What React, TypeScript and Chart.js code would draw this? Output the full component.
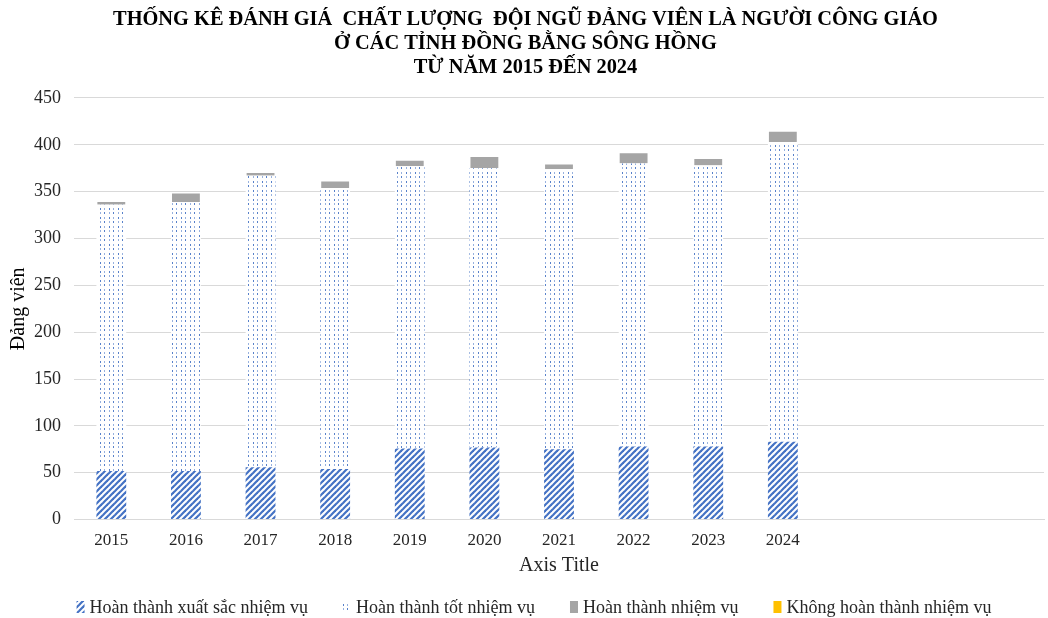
import React, { useEffect, useRef } from "react";
import { Chart, registerables } from "chart.js";

Chart.register(...registerables);

const categories = ["2015", "2016", "2017", "2018", "2019", "2020", "2021", "2022", "2023", "2024", "", "", ""];
const excellent = [52, 52, 56, 54, 76, 77, 75, 78, 78, 83];
const good = [284, 287, 311, 300, 301, 298, 299, 302, 300, 320];
const completed = [4, 10, 4, 8, 7, 13, 6, 12, 8, 12];
const notCompleted = [0, 0, 0, 0, 0, 0, 0, 0, 0, 0];
const seriesNames = [
  "Hoàn thành xuất sắc nhiệm vụ",
  "Hoàn thành tốt nhiệm vụ",
  "Hoàn thành nhiệm vụ",
  "Không hoàn thành nhiệm vụ",
];
const titleLines = [
  "THỐNG KÊ ĐÁNH GIÁ  CHẤT LƯỢNG  ĐỘI NGŨ ĐẢNG VIÊN LÀ NGƯỜI CÔNG GIÁO",
  "Ở CÁC TỈNH ĐỒNG BẰNG SÔNG HỒNG",
  "TỪ NĂM 2015 ĐẾN 2024",
];
const yTicks = { min: 0, max: 450, step: 50 };

const BLUE = "#4472C4";
const FONT = "'Liberation Serif', 'Times New Roman', serif";
const TEXT = "#262626";

function stripePattern(ctx: CanvasRenderingContext2D) {
  const c = document.createElement("canvas");
  c.width = 6;
  c.height = 6;
  const g = c.getContext("2d")!;
  g.fillStyle = "#ffffff";
  g.fillRect(0, 0, 6, 6);
  g.strokeStyle = BLUE;
  g.lineWidth = 2.2;
  g.lineCap = "square";
  for (const off of [-6, 0, 6]) {
    g.beginPath();
    g.moveTo(off - 1, 7);
    g.lineTo(off + 7, -1);
    g.stroke();
  }
  return ctx.createPattern(c, "repeat")!;
}

function dotPattern(ctx: CanvasRenderingContext2D) {
  const c = document.createElement("canvas");
  c.width = 9;
  c.height = 9;
  const g = c.getContext("2d")!;
  g.fillStyle = "#ffffff";
  g.fillRect(0, 0, 9, 9);
  g.fillStyle = "rgba(68,114,196,0.9)";
  g.fillRect(1, 1, 1, 2);
  g.fillRect(5, 5, 1, 2);
  g.fillStyle = "rgba(68,114,196,0.55)";
  g.fillRect(5, 1, 1, 2);
  g.fillRect(1, 5, 1, 2);
  return ctx.createPattern(c, "repeat")!;
}

const customLegend = {
  id: "customLegend",
  afterDraw(chart: any) {
    const ctx: CanvasRenderingContext2D = chart.ctx;
    ctx.save();
    ctx.font = `18px ${FONT}`;
    const gap = 35;
    const box = 8;
    const textGap = 5;
    const ds = chart.data.datasets;
    const widths = ds.map((d: any) => box + textGap + ctx.measureText(d.label).width);
    const total = widths.reduce((a: number, b: number) => a + b, 0) + gap * (ds.length - 1);
    let x = chart.width / 2 + 10 - total / 2;
    const y = 607;
    ds.forEach((d: any, i: number) => {
      ctx.fillStyle = d.backgroundColor;
      ctx.fillRect(x, y - 6, box, 12);
      ctx.fillStyle = TEXT;
      ctx.textBaseline = "middle";
      ctx.textAlign = "left";
      ctx.fillText(d.label, x + box + textGap, y + 1);
      x += widths[i] + gap;
    });
    ctx.restore();
  },
};

export default function App() {
  const ref = useRef<HTMLCanvasElement>(null);
  useEffect(() => {
    document.body.style.margin = "0";
    const canvas = ref.current!;
    const ctx = canvas.getContext("2d")!;
    const stripes = stripePattern(ctx);
    const dots = dotPattern(ctx);
    const chart = new Chart(canvas, {
      type: "bar",
      data: {
        labels: categories,
        datasets: [
          { label: seriesNames[0], data: excellent, backgroundColor: stripes, borderWidth: 0 },
          { label: seriesNames[1], data: good, backgroundColor: dots, borderWidth: 0 },
          { label: seriesNames[2], data: completed, backgroundColor: "#A5A5A5", borderColor: "#ffffff", borderWidth: 1 },
          { label: seriesNames[3], data: notCompleted, backgroundColor: "#FFC000", borderWidth: 0 },
        ],
      },
      plugins: [customLegend],
      options: {
        animation: false,
        responsive: true,
        maintainAspectRatio: false,
        layout: { padding: { left: 7, right: 4, top: 0, bottom: 40 } },
        datasets: { bar: { categoryPercentage: 1, barPercentage: 0.4 } },
        scales: {
          x: {
            stacked: true,
            grid: { display: false },
            border: { color: "#d9d9d9" },
            ticks: { color: TEXT, font: { family: FONT, size: 17 }, padding: 3, autoSkip: false, maxRotation: 0 },
            title: { display: true, text: "Axis Title", color: TEXT, font: { family: FONT, size: 20 }, padding: { top: 0, bottom: 0 } },
          },
          y: {
            stacked: true,
            min: yTicks.min,
            max: yTicks.max,
            grid: { color: "#d9d9d9", drawTicks: false },
            border: { display: false },
            ticks: { stepSize: yTicks.step, color: TEXT, font: { family: FONT, size: 18 }, padding: 13 },
            title: { display: true, text: "Đảng viên", color: "#000000", font: { family: FONT, size: 20 }, padding: { top: 0, bottom: -10 } },
          },
        },
        plugins: {
          title: {
            display: true,
            text: titleLines,
            color: "#000000",
            font: { family: FONT, size: 20.4, weight: "bold", lineHeight: 1.176 },
            padding: { top: 8, bottom: 18 },
          },
          legend: { display: false },
          tooltip: { enabled: false },
        },
      },
    });
    return () => chart.destroy();
  }, []);
  return (
    <div style={{ position: "relative", width: 1048, height: 618 }}>
      <canvas ref={ref} />
    </div>
  );
}
